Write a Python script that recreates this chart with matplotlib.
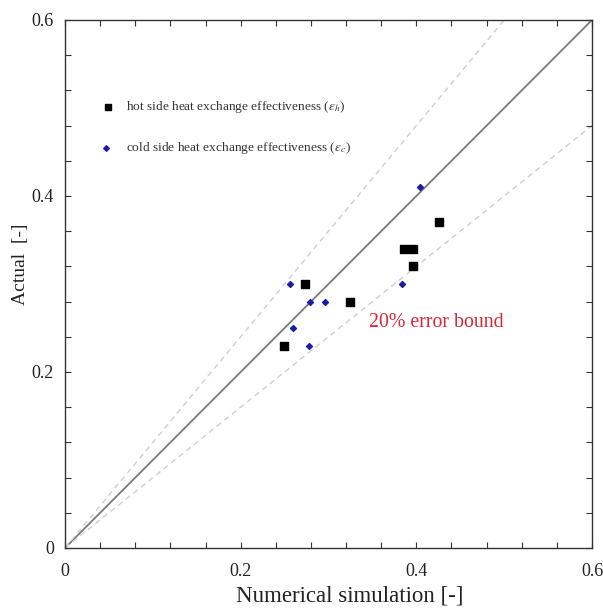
import matplotlib.pyplot as plt
import numpy as np

plt.rcParams['font.family'] = ['Liberation Serif', 'DejaVu Serif']
plt.rcParams['mathtext.fontset'] = 'stix'

# hot side effectiveness: simulation vs. measured
hot_sim = [0.249, 0.273, 0.325, 0.386, 0.396, 0.396, 0.426]
hot_act = [0.23, 0.30, 0.28, 0.34, 0.34, 0.32, 0.37]

# cold side effectiveness: simulation vs. measured
cold_sim = [0.256, 0.260, 0.278, 0.279, 0.296, 0.384, 0.404]
cold_act = [0.30, 0.25, 0.23, 0.28, 0.28, 0.30, 0.41]

fig = plt.figure(figsize=(6.03, 6.08), dpi=100)
ax = fig.add_axes([65 / 603, 1 - 548 / 608, 527 / 603, 528 / 608])

# parity line and +/-20% bounds
xx = np.array([0, 0.6])
ax.plot(xx, xx, color='#7a7a7a', lw=1.3, zorder=1)
ax.plot(xx, 1.2 * xx, color='#cfcfcf', lw=1.0, ls=(0, (4, 3)), zorder=1)
ax.plot(xx, 0.8 * xx, color='#cfcfcf', lw=1.0, ls=(0, (4, 3)), zorder=1)

ax.scatter(hot_sim, hot_act, marker='s', s=30, color='black', zorder=3)
ax.scatter(cold_sim, cold_act, marker='D', s=9, color='#1c1ca8', zorder=3)

# legend drawn by hand inside the axes
ax.scatter([0.049], [0.501], marker='s', s=24, color='black')
ax.scatter([0.047], [0.4545], marker='D', s=8, color='#1c1ca8')
ax.text(0.070, 0.501, r'hot side heat exchange effectiveness ($\varepsilon_h$)',
        fontsize=9.6, color='#333333', va='center')
ax.text(0.070, 0.4545, r'cold side heat exchange effectiveness ($\varepsilon_c$)',
        fontsize=9.6, color='#333333', va='center')

ax.text(0.346, 0.256, '20% error bound', color='#d42a3a', fontsize=14.3, va='center')

ax.set_xlim(0, 0.6)
ax.set_ylim(0, 0.6)
ax.set_xticks([0, 0.2, 0.4, 0.6])
ax.set_xticklabels(['0', '0.2', '0.4', '0.6'])
ax.set_yticks([0, 0.2, 0.4, 0.6])
ax.set_yticklabels(['0', '0.2', '0.4', '0.6'])
ax.set_xticks(np.arange(0, 0.61, 0.04), minor=True)
ax.set_yticks(np.arange(0, 0.61, 0.04), minor=True)
ax.tick_params(which='both', direction='in', top=True, right=True,
               length=4, width=0.8, colors='#333333', labelsize=13, labelcolor='#222222')
ax.tick_params(axis='x', pad=11)
ax.tick_params(axis='y', pad=8)
for sp in ax.spines.values():
    sp.set_color('#333333')
    sp.set_linewidth(1.0)

ax.set_xlabel('Numerical simulation [-]', fontsize=16.5, color='#222222')
ax.set_ylabel('Actual  [-]', fontsize=14, color='#222222')
ax.xaxis.set_label_coords(0.541, -0.091)
ax.yaxis.set_label_coords(-0.0835, 0.538)
ax.xaxis.label.set_va('center')
ax.yaxis.label.set_va('center')

fig.savefig('out.png', dpi=100)
